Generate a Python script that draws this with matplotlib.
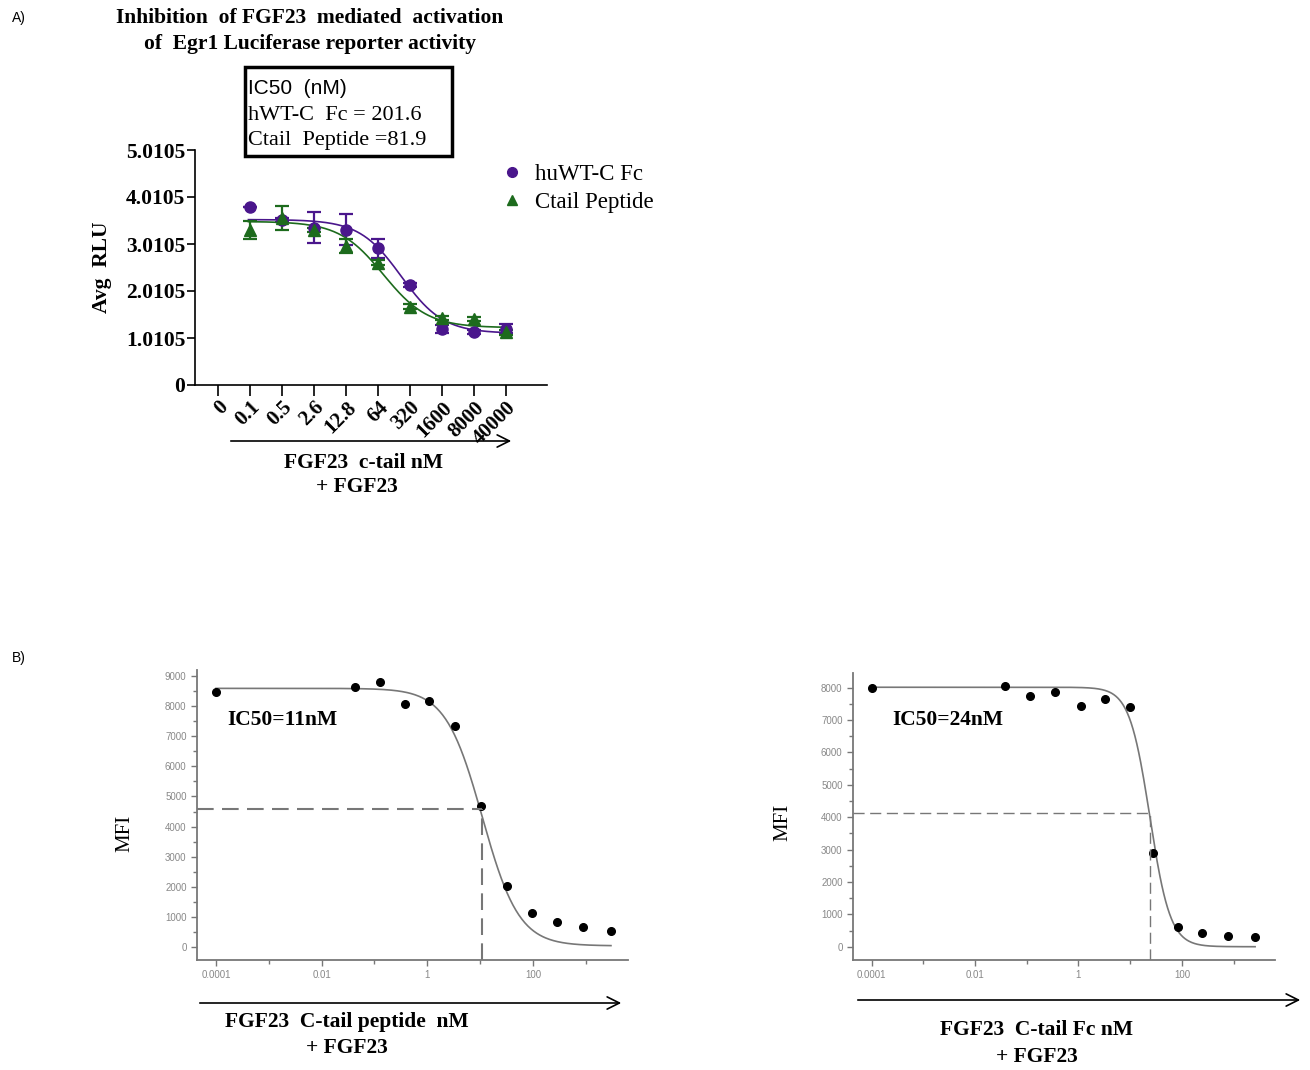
import numpy as np
import matplotlib
matplotlib.use("Agg")
import matplotlib.pyplot as plt
from matplotlib.patches import Rectangle, FancyArrowPatch
from matplotlib.lines import Line2D
from matplotlib.ticker import FixedLocator, NullFormatter

# ---- Panel A data (Egr1 luciferase, Avg RLU x 1e5) ----
conc_labels = ["0", "0.1", "0.5", "2.6", "12.8", "64", "320", "1600", "8000", "40000"]
ytick_labels_a = ["0", "1.0105", "2.0105", "3.0105", "4.0105", "5.0105"]
fc_rlu = [3.78, 3.51, 3.35, 3.30, 2.91, 2.13, 1.19, 1.12, 1.20]
fc_err = [0.00, 0.05, 0.33, 0.33, 0.20, 0.05, 0.08, 0.04, 0.10]
pep_rlu = [3.30, 3.55, 3.30, 2.95, 2.60, 1.67, 1.43, 1.40, 1.12]
pep_err = [0.20, 0.25, 0.05, 0.15, 0.05, 0.05, 0.04, 0.04, 0.05]
# 4PL fit parameters (top, bottom, IC50 nM, hill)
fc_fit = [3.52, 1.10, 201.6, 0.95]
pep_fit = [3.48, 1.22, 81.9, 0.90]

# ---- Panel B data (MFI) ----
pep_conc = [0.0001, 0.042, 0.125, 0.38, 1.1, 3.4, 10.5, 32, 95, 290, 870, 3000]
pep_mfi = [8480, 8625, 8790, 8060, 8170, 7340, 4690, 2040, 1140, 840, 660, 540]
pep_fit_b = [8590, 40, 11, 1.25]
pep_half = 4585  # level of the dashed IC50 guide

fcb_conc = [0.0001, 0.038, 0.116, 0.35, 1.11, 3.2, 9.8, 27.5, 84, 250, 770, 2600]
fcb_mfi = [8000, 8040, 7750, 7850, 7440, 7645, 7410, 2880, 620, 410, 340, 310]
fcb_fit = [8010, 0, 24, 2.2]
fcb_half = 4120

W, H = 1310, 1070
SERIF = "Liberation Serif"
SANS = "Liberation Sans"
PURPLE = "#4a168c"
GREEN = "#1d6b1d"
GREY = "#777777"
BOLD = 15.5  # size of the bold serif labels


def px(x, y):
    # pixel position -> figure fraction
    return x / W, 1 - y / H


def rect(l, t, r, b):
    return [l / W, 1 - b / H, (r - l) / W, (b - t) / H]


def fourpl(x, top, bottom, ic50, hill):
    return bottom + (top - bottom) / (1 + (x / ic50) ** hill)


def btext(x, y, s, **kw):
    fig.text(*px(x, y), s, family=SERIF, fontweight="bold", fontsize=BOLD,
             ha="center", va="center", **kw)


fig = plt.figure(figsize=(W / 100, H / 100), dpi=100)
fig.patch.set_facecolor("white")

fig.text(*px(12, 18), "A)", fontsize=10, family=SANS, va="center")
fig.text(*px(12, 658), "B)", fontsize=10, family=SANS, va="center")

# ================= Panel A =================
ax = fig.add_axes(rect(195, 150, 547, 385))
xpos = np.arange(1, len(conc_labels))
xx = np.linspace(0.95, 9.0, 300)

for vals, errs, fit, col, mk in [
    (fc_rlu, fc_err, fc_fit, PURPLE, "o"),
    (pep_rlu, pep_err, pep_fit, GREEN, "^"),
]:
    top, bottom, ic50, hill = fit
    ic_pos = 1 + np.log(ic50 / 0.1) / np.log(5)
    yy = bottom + (top - bottom) / (1 + 5.0 ** (hill * (xx - ic_pos)))
    ax.plot(xx, yy, color=col, lw=1.2)
    ax.errorbar(xpos, vals, yerr=errs, fmt=mk, color=col, ms=8, capsize=5,
                elinewidth=1.6, capthick=1.6)

ax.set_xlim(-0.72, 10.28)
ax.set_ylim(0, 5)
ax.set_xticks(range(len(conc_labels)))
ax.set_xticklabels(conc_labels, rotation=45, ha="right", va="top",
                   rotation_mode="anchor", family=SERIF, fontweight="bold", fontsize=15)
ax.set_yticks(range(6))
ax.set_yticklabels(ytick_labels_a, family=SERIF, fontweight="bold", fontsize=BOLD)
ax.tick_params(axis="x", length=8, width=1.2, pad=1)
ax.tick_params(axis="y", length=6, width=1.2, pad=1)
for s in ["top", "right"]:
    ax.spines[s].set_visible(False)
for s in ["left", "bottom"]:
    ax.spines[s].set_linewidth(1.2)
ax.set_ylabel("Avg  RLU", family=SERIF, fontweight="bold", fontsize=BOLD, labelpad=10)

handles = [Line2D([], [], ls="", marker="o", color=PURPLE, ms=7),
           Line2D([], [], ls="", marker="^", color=GREEN, ms=7)]
ax.legend(handles, ["huWT-C Fc", "Ctail Peptide"], loc="upper left",
          bbox_to_anchor=(0.81, 1.03), frameon=False,
          prop={"family": SERIF, "size": 16.5}, handletextpad=0.5,
          labelspacing=0.3, handlelength=1.0)

btext(310, 18, "Inhibition  of FGF23  mediated  activation")
btext(310, 44, "of  Egr1 Luciferase reporter activity")

# IC50 box
fig.patches.append(Rectangle(px(245, 156), 207 / W, 89 / H, transform=fig.transFigure,
                             fill=False, lw=2.5, ec="black"))
fig.text(*px(248, 88), "IC50  (nM)", family=SANS, fontsize=15, va="center")
fig.text(*px(248, 115), "hWT-C  Fc = 201.6", family=SERIF, fontsize=16, va="center")
fig.text(*px(248, 140), "Ctail  Peptide =81.9", family=SERIF, fontsize=16, va="center")

# concentration arrow
fig.add_artist(FancyArrowPatch(px(228, 441), px(514, 441), transform=fig.transFigure,
                               arrowstyle="->", mutation_scale=22, lw=1.2))
btext(364, 463, "FGF23  c-tail nM")
btext(357, 487, "+ FGF23")


# ================= Panel B =================
def mfi_panel(box, conc, mfi, fit, half, ylim, ic_text_xy, dash_lw):
    bx = fig.add_axes(rect(*box))
    ic50 = fit[2]
    xs = np.logspace(-4, np.log10(conc[-1]), 400)
    bx.plot(xs, fourpl(xs, *fit), color=GREY, lw=1.2)
    bx.plot(conc, mfi, "o", color="black", ms=5.5)
    bx.set_xscale("log")
    bx.set_xlim(10 ** -4.36, 10 ** 3.8)
    bx.set_ylim(*ylim)
    # dashed IC50 guides
    bx.plot([10 ** -4.36, ic50], [half, half], color=GREY, lw=dash_lw, dashes=(8, 4))
    bx.plot([ic50, ic50], [ylim[0], half], color=GREY, lw=dash_lw, dashes=(8, 4))

    bx.xaxis.set_major_locator(FixedLocator([1e-4, 1e-2, 1, 100]))
    bx.xaxis.set_minor_locator(FixedLocator([1e-3, 1e-1, 10, 1000]))
    bx.xaxis.set_minor_formatter(NullFormatter())
    bx.set_xticklabels(["0.0001", "0.01", "1", "100"])
    ymax = int(ylim[1] // 1000) * 1000
    bx.set_yticks(range(0, ymax + 1, 1000))
    bx.set_yticks(range(500, ymax + 1, 1000), minor=True)
    bx.tick_params(which="both", color=GREY, labelcolor="#888888", labelsize=7, width=1)
    bx.tick_params(which="major", length=4)
    bx.tick_params(which="minor", length=3)
    for s in ["top", "right"]:
        bx.spines[s].set_visible(False)
    for s in ["left", "bottom"]:
        bx.spines[s].set_color(GREY)
        bx.spines[s].set_linewidth(1.3)
    for lbl in bx.get_xticklabels() + bx.get_yticklabels():
        lbl.set_family(SANS)
    fig.text(*px(*ic_text_xy), "IC50=%dnM" % ic50, family=SERIF, fontweight="bold",
             fontsize=BOLD, va="center")
    return bx


mfi_panel((197, 670, 628, 960), pep_conc, pep_mfi, pep_fit_b, pep_half,
          (-430, 9200), (227, 720), 1.5)
mfi_panel((853, 673, 1275, 960), fcb_conc, fcb_mfi, fcb_fit, fcb_half,
          (-410, 8450), (892, 720), 1.0)

fig.text(*px(125, 833), "MFI", family=SERIF, fontsize=15, rotation=90, ha="center", va="center")
fig.text(*px(783, 822), "MFI", family=SERIF, fontsize=15, rotation=90, ha="center", va="center")

for x0, x1, y in [(197, 624, 1003), (855, 1303, 1000)]:
    fig.add_artist(FancyArrowPatch(px(x0, y), px(x1, y), transform=fig.transFigure,
                                   arrowstyle="->", mutation_scale=22, lw=1.2))

btext(347, 1022, "FGF23  C-tail peptide  nM")
btext(347, 1048, "+ FGF23")
btext(1037, 1030, "FGF23  C-tail Fc nM")
btext(1037, 1057, "+ FGF23")

fig.savefig("out.png", dpi=100, facecolor="white")
